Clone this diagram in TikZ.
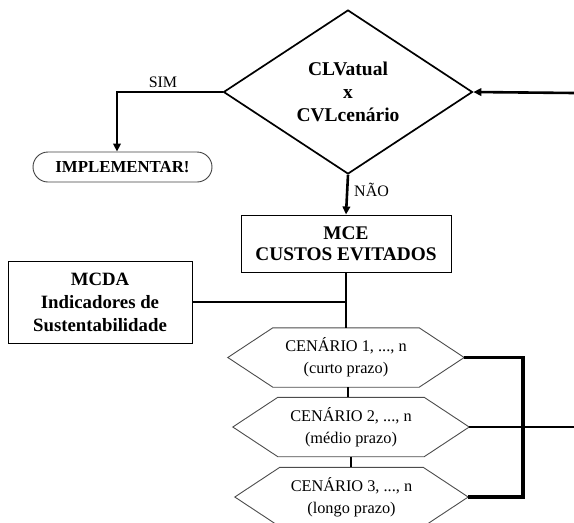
\documentclass[tikz,border=0pt]{standalone}
\usepackage{fontspec}
\setmainfont{Liberation Serif}
\usetikzlibrary{shapes.geometric,arrows.meta,calc}
\begin{document}
\begin{tikzpicture}[x=1pt,y=-1pt,
  every node/.style={inner sep=0pt},
  bigbold/.style={font=\fontsize{19}{23}\selectfont\bfseries, align=center},
  boxframe/.style={draw, line width=1pt},
  hexbox/.style={minimum width=236pt, minimum height=59pt, align=center,
                 font=\fontsize{16.3}{22}\selectfont},
  hexline/.style={draw=black!70, line width=0.9pt},
  flow/.style={line width=2.6pt},
  thinflow/.style={line width=1.7pt},
  bracket/.style={line width=3.4pt},
  tip/.style={-{Triangle[length=8pt,width=7.5pt]}},
  lbl/.style={font=\fontsize{16}{18}\selectfont}]
\useasboundingbox (0,0) rectangle (574,523);

% decision
\node[diamond, draw, line width=1.7pt, shape aspect=1.5,
      minimum width=249pt, minimum height=164pt, bigbold,
      font=\fontsize{19.5}{23}\selectfont\bfseries] (dec) at (348,92)
  {CLVatual\\x\\CVLcenário};

% terminal
\node[draw=black!75, line width=0.9pt, rounded corners=15pt,
      minimum width=179pt, minimum height=30pt,
      font=\fontsize{16.8}{18}\selectfont\bfseries] (impl) at (122.5,167) {IMPLEMENTAR!};

% process boxes
\node[boxframe, minimum width=210pt, minimum height=57pt,
      bigbold, font=\fontsize{19.3}{21}\selectfont\bfseries] (mce) at (346,243.5)
  {MCE\\CUSTOS EVITADOS};
\node[boxframe, minimum width=184pt, minimum height=82pt,
      bigbold, font=\fontsize{18.8}{23}\selectfont\bfseries] (mcda) at (100,302)
  {MCDA\\Indicadores de\\Sustentabilidade};

% scenarios
\node[hexbox] (s1) at (346,357.5) {CENÁRIO 1, ..., n\\(curto prazo)};
\node[hexbox] (s2) at (351,427) {CENÁRIO 2, ..., n\\(médio prazo)};
\node[hexbox, minimum width=233pt] (s3) at (351.5,497) {CENÁRIO 3, ..., n\\(longo prazo)};
\foreach \n in {s1,s2,s3}
  \draw[hexline] ($(\n.north west)+(45,0)$) -- ($(\n.north east)+(-45,0)$) -- (\n.east)
    -- ($(\n.south east)+(-45,0)$) -- ($(\n.south west)+(45,0)$) -- (\n.west) -- cycle;

% connectors
\coordinate (inR) at (574,93);
\coordinate (outR) at (574,427);
\coordinate (br) at (523,357);

\draw[flow, tip] (inR) -- (dec.east);
\draw[flow, tip] (dec.west) -| ($(impl.north)+(-5.5,0)$);
\node[lbl] at (163,82) {SIM};
\draw[flow, tip] (dec.south) -- (mce.north);
\node[lbl, anchor=west] at (354,190) {NÃO};
\draw[thinflow] (mce.south) -- (s1.north);
\draw[flow] (mcda.east) -- (mcda.east -| mce.south);
\draw[thinflow] ($(s1.south)+(2,0)$) -- ($(s1.south |- s2.north)+(2,0)$);
\draw[thinflow] (s2.south) -- (s2.south |- s3.north);
\draw[bracket] (s1.east) -- (s1.east -| br) -- (s3.east -| br) -- (s3.east);
\draw[flow] (s2.east) -- (outR);
\end{tikzpicture}
\end{document}
